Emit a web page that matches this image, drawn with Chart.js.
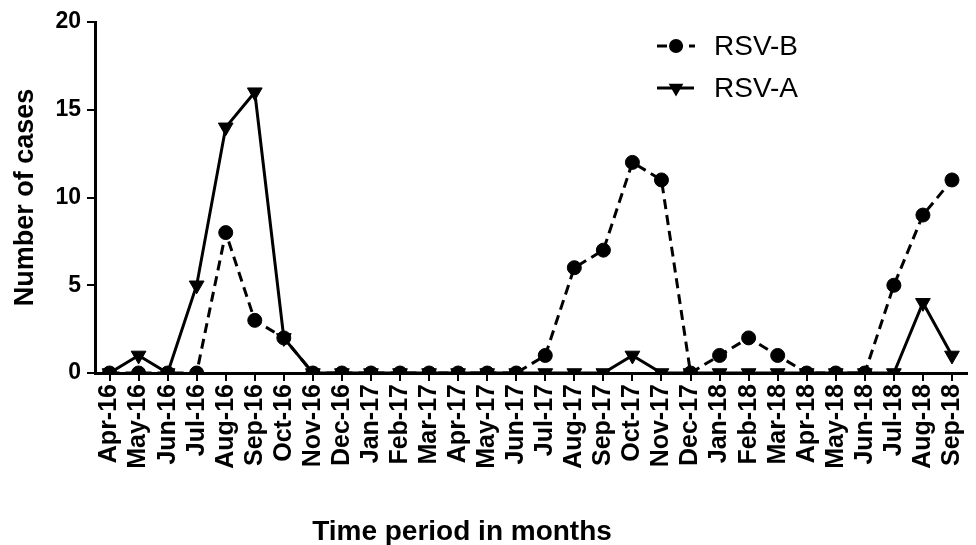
<!DOCTYPE html>
<html>
<head>
<meta charset="utf-8">
<script src="https://cdn.jsdelivr.net/npm/chart.js@4"></script>
<style>
  html, body { margin: 0; padding: 0; background: #fff; }
  #wrap { width: 976px; height: 545px; position: relative; }
</style>
</head>
<body>
<div id="wrap"><canvas id="c" width="976" height="545"></canvas></div>
<script>
const months = ["Apr-16","May-16","Jun-16","Jul-16","Aug-16","Sep-16","Oct-16","Nov-16","Dec-16","Jan-17","Feb-17","Mar-17","Apr-17","May-17","Jun-17","Jul-17","Aug-17","Sep-17","Oct-17","Nov-17","Dec-17","Jan-18","Feb-18","Mar-18","Apr-18","May-18","Jun-18","Jul-18","Aug-18","Sep-18"];
const rsvB = [0,0,0,0,8,3,2,0,0,0,0,0,0,0,0,1,6,7,12,11,0,1,2,1,0,0,0,5,9,11];
const rsvA = [0,1,0,5,14,16,2,0,0,0,0,0,0,0,0,0,0,0,1,0,0,0,0,0,0,0,0,0,4,1];
const yTicks = [0,5,10,15,20];
const seriesNames = ["RSV-B","RSV-A"];
const xTitle = "Time period in months";
const yTitle = "Number of cases";

const FONT = "'Liberation Sans', Arial, sans-serif";

const legendPlugin = {
  id: 'customLegend',
  afterDraw(chart) {
    const ctx = chart.ctx;
    ctx.save();
    ctx.strokeStyle = '#000';
    ctx.fillStyle = '#000';
    ctx.lineWidth = 3;
    ctx.setLineDash([10, 6]);
    ctx.beginPath();
    ctx.moveTo(657, 46); ctx.lineTo(695, 46);
    ctx.stroke();
    ctx.setLineDash([]);
    ctx.beginPath();
    ctx.arc(676, 46, 7, 0, Math.PI * 2);
    ctx.fill();
    ctx.beginPath();
    ctx.moveTo(657, 88); ctx.lineTo(694, 88);
    ctx.stroke();
    const r = 8.5;
    ctx.beginPath();
    ctx.moveTo(676 - r * 0.866, 88 - r * 0.5);
    ctx.lineTo(676 + r * 0.866, 88 - r * 0.5);
    ctx.lineTo(676, 88 + r);
    ctx.closePath();
    ctx.fill();
    ctx.font = "28px " + FONT;
    ctx.textBaseline = 'middle';
    ctx.textAlign = 'left';
    ctx.fillText(seriesNames[0], 714, 47);
    ctx.fillText(seriesNames[1], 714, 89);
    ctx.font = "bold 28px " + FONT;
    ctx.textAlign = 'center';
    ctx.fillText(xTitle, 462, 532);
    ctx.restore();
  }
};

const bgPlugin = {
  id: 'bg',
  beforeDraw(chart) {
    const ctx = chart.ctx;
    ctx.save();
    ctx.fillStyle = '#fff';
    ctx.fillRect(0, 0, chart.width, chart.height);
    ctx.restore();
  }
};

new Chart(document.getElementById('c'), {
  type: 'line',
  data: {
    labels: months,
    datasets: [
      {
        label: seriesNames[1],
        data: rsvA,
        borderColor: '#000',
        backgroundColor: '#000',
        borderWidth: 3,
        pointStyle: 'triangle',
        pointRotation: 180,
        pointRadius: 8.5,
        pointBorderWidth: 1,
        pointBackgroundColor: '#000',
        pointBorderColor: '#000',
        tension: 0,
        fill: false
      },
      {
        label: seriesNames[0],
        data: rsvB,
        borderColor: '#000',
        backgroundColor: '#000',
        borderWidth: 3,
        borderDash: [10, 6],
        pointStyle: 'circle',
        pointRadius: 7,
        pointBorderWidth: 1,
        pointBackgroundColor: '#000',
        pointBorderColor: '#000',
        tension: 0,
        fill: false
      }
    ]
  },
  options: {
    responsive: false,
    animation: false,
    devicePixelRatio: 1,
    layout: { padding: { top: 22, right: 3, left: 0, bottom: 0 } },
    plugins: {
      legend: { display: false },
      tooltip: { enabled: false }
    },
    scales: {
      x: {
        type: 'category',
        offset: true,
        afterFit(scale) { scale.height = 172; scale.paddingLeft = 0; scale.paddingRight = 0; },
        border: { display: true, color: '#000', width: 3 },
        grid: { display: true, drawOnChartArea: false, drawTicks: true, tickLength: 8, color: '#000', lineWidth: 2, offset: false },
        ticks: {
          color: '#000',
          font: { family: FONT, size: 25, weight: 'bold' },
          minRotation: 90,
          maxRotation: 90,
          autoSkip: false,
          padding: 3
        },
        title: { display: false }
      },
      y: {
        type: 'linear',
        min: 0,
        max: 20,
        afterFit(scale) { scale.width = 95; scale.paddingTop = 0; scale.paddingBottom = 0; },
        afterBuildTicks(scale) { scale.ticks = yTicks.map(v => ({ value: v })); },
        border: { display: true, color: '#000', width: 3 },
        grid: { display: true, drawOnChartArea: false, drawTicks: true, tickLength: 8, color: '#000', lineWidth: 2 },
        ticks: {
          color: '#000',
          font: { family: FONT, size: 23, weight: 'bold' },
          padding: 6
        },
        title: {
          display: true,
          text: yTitle,
          color: '#000',
          font: { family: FONT, size: 27, weight: 'bold' },
          padding: { top: 9, bottom: 0 }
        }
      }
    }
  },
  plugins: [bgPlugin, legendPlugin]
});
</script>
</body>
</html>
